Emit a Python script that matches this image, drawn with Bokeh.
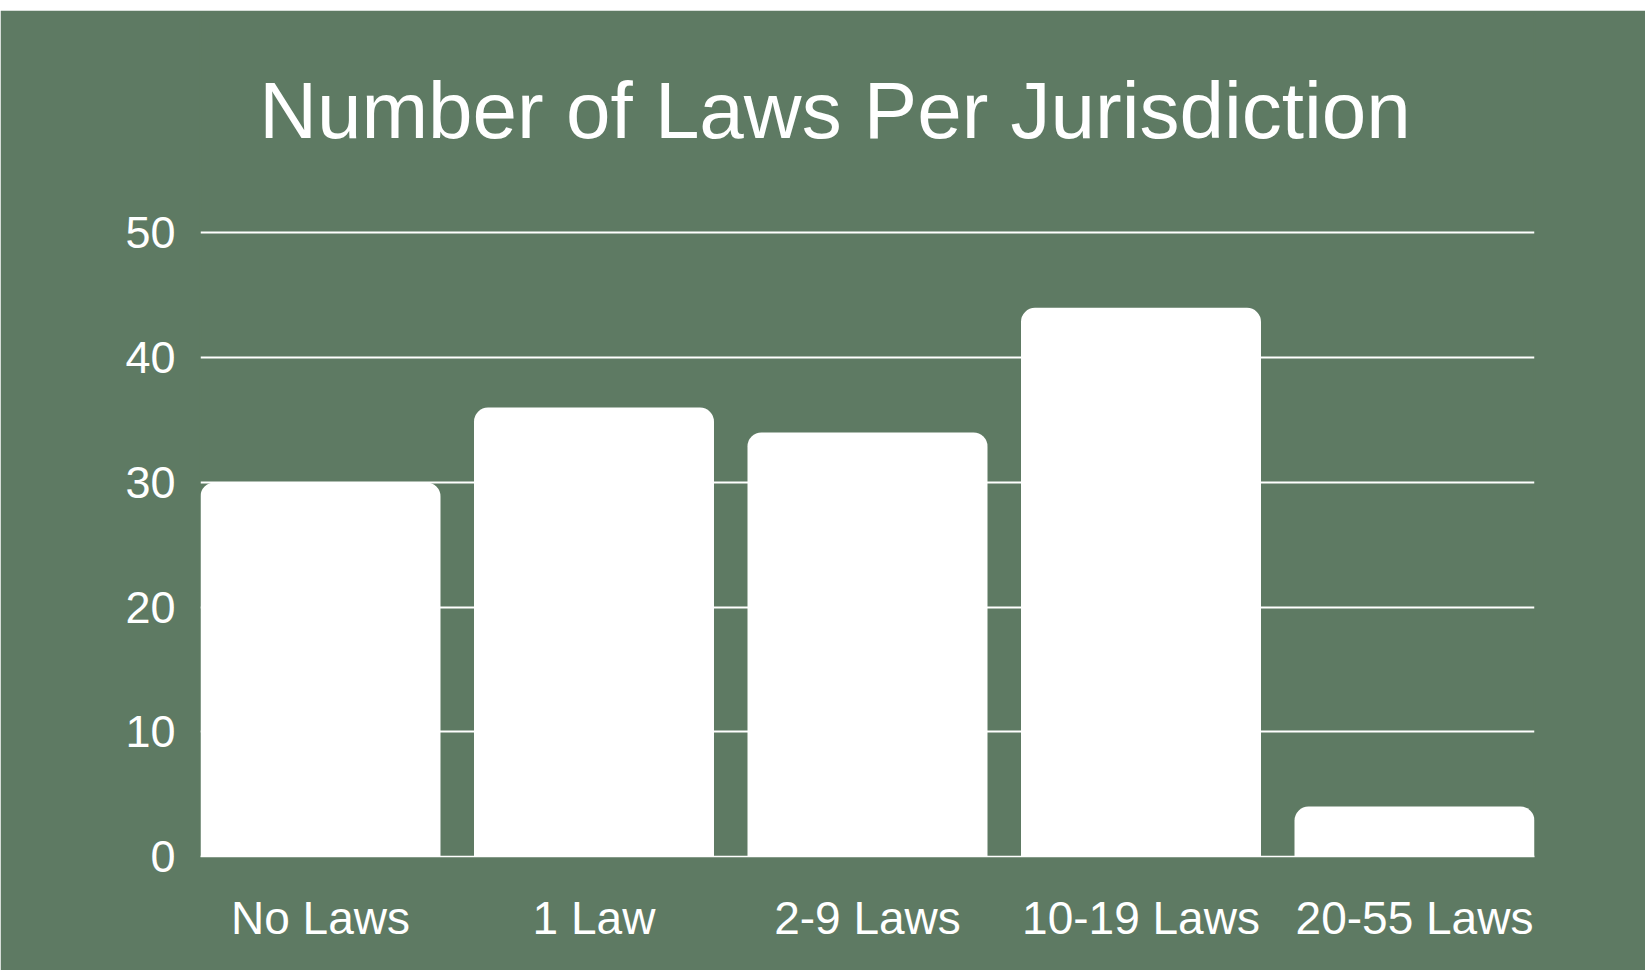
from bokeh.plotting import figure
from bokeh.models import Range1d, FixedTicker, Label, Spacer
from bokeh.layouts import column
from bokeh.embed import file_html
from bokeh.resources import INLINE

categories = ["No Laws", "1 Law", "2-9 Laws", "10-19 Laws", "20-55 Laws"]
counts = [30, 36, 34, 44, 4]
y_ticks = [0, 10, 20, 30, 40, 50]
title_text = "Number of Laws Per Jurisdiction"

BG = "#5e7a63"
FONT = "Liberation Sans"

xs = list(range(len(categories)))
bar_w = 0.8775
y_top = 67.52  # frame extends near top of figure; empty headroom holds the title

p = figure(width=1645, height=960, output_backend="svg", toolbar_location=None,
           x_range=Range1d(xs[0] - bar_w / 2, xs[-1] + bar_w / 2),
           y_range=Range1d(0, y_top),
           min_border_left=200, min_border_right=111,
           min_border_top=4, min_border_bottom=114)
p.title = None
p.background_fill_color = BG
p.border_fill_color = BG
p.outline_line_color = BG
p.outline_line_width = 2

title = Label(x=1.881, y=59.83, text=title_text,
              text_align="center", text_baseline="alphabetic",
              text_font=FONT, text_font_size="80px", text_color="white")
p.add_layout(title)

p.vbar(x=xs, top=counts, width=bar_w, bottom=0, color="white", line_color=None,
       border_radius=(14, 14, 0, 0))

p.xgrid.grid_line_color = None
p.ygrid.grid_line_color = "white"
p.ygrid.grid_line_width = 2
p.ygrid.ticker = FixedTicker(ticks=y_ticks)

p.yaxis.ticker = FixedTicker(ticks=y_ticks)
p.yaxis.axis_line_color = None
p.yaxis.major_tick_line_color = None
p.yaxis.minor_tick_line_color = None
p.yaxis.major_tick_in = 0
p.yaxis.major_tick_out = 0
p.yaxis.major_label_standoff = 25
p.yaxis.major_label_text_font = FONT
p.yaxis.major_label_text_font_size = "45px"
p.yaxis.major_label_text_color = "white"

p.xaxis.ticker = FixedTicker(ticks=xs)
p.xaxis.major_label_overrides = {i: c for i, c in zip(xs, categories)}
p.xaxis.axis_line_color = "white"
p.xaxis.axis_line_width = 1.5
p.xaxis.major_tick_line_color = None
p.xaxis.minor_tick_line_color = None
p.xaxis.major_tick_in = 0
p.xaxis.major_tick_out = 0
p.xaxis.major_label_standoff = 35
p.xaxis.major_label_text_font = FONT
p.xaxis.major_label_text_font_size = "46px"
p.xaxis.major_label_text_color = "white"

layout = column(Spacer(height=10, width=1645), p, spacing=0)
open("out.html", "w").write(file_html(layout, INLINE))
